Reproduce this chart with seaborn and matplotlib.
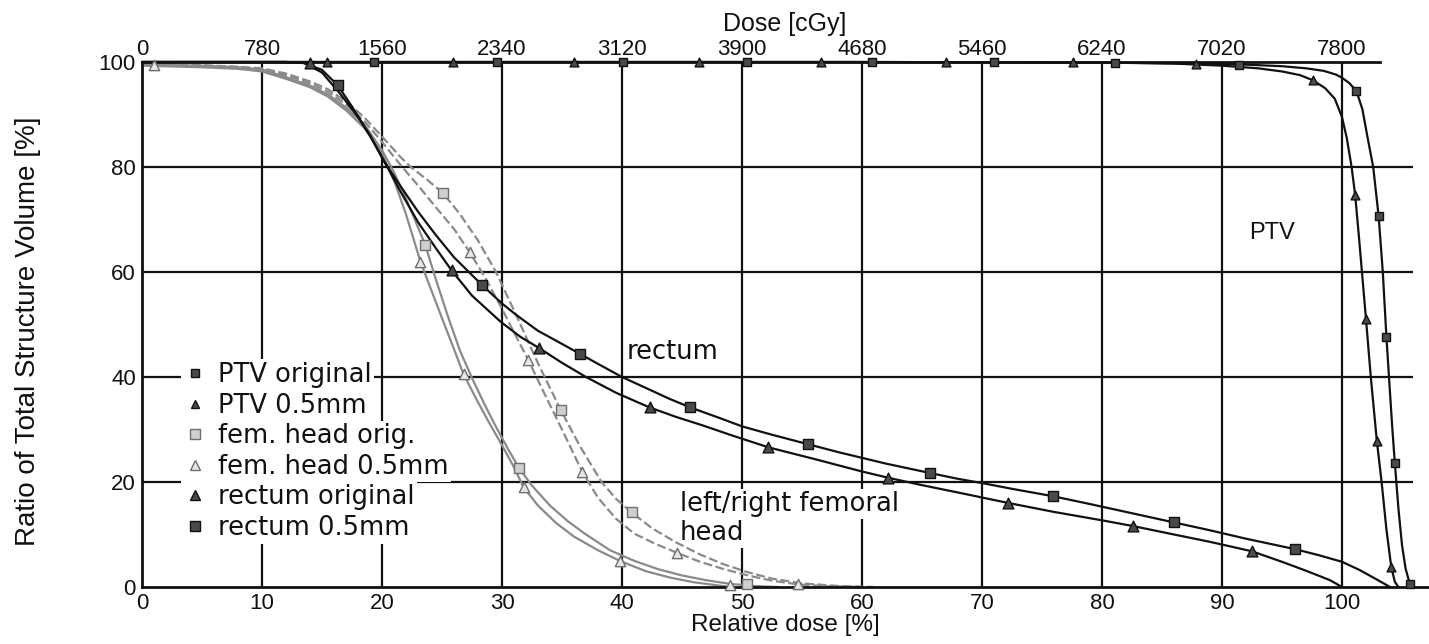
import matplotlib
matplotlib.use("Agg")
import matplotlib.pyplot as plt
import seaborn as sns
from matplotlib.lines import Line2D
from matplotlib.patches import Rectangle

sns.set_style("white")
plt.rcParams['font.family'] = ['Liberation Sans', 'DejaVu Sans']

# ---------------- data ----------------
rel_ticks = [0, 10, 20, 30, 40, 50, 60, 70, 80, 90, 100]
dose_ticks = [0, 780, 1560, 2340, 3120, 3900, 4680, 5460, 6240, 7020, 7800]
vol_ticks = [0, 20, 40, 60, 80, 100]

# PTV original (black, squares)
ptv_orig_x = [0, 60, 80, 88, 92, 95, 97, 98.5, 99.5, 100.0, 100.6, 101.2, 101.7, 102.1, 102.6,
              103.05, 103.4, 103.7, 104.0, 104.2, 104.4, 104.7, 105.0, 105.3, 105.6, 106.0]
ptv_orig_y = [100, 100, 99.9, 99.7, 99.5, 99.2, 98.8, 98.3, 97.6, 97.0, 96.0, 94.5, 91, 86, 80,
              70.7, 60, 47.7, 37, 30, 23.7, 15, 8, 3.5, 1, 0]
ptv_orig_mk_x = [19.3, 29.6, 40.1, 50.4, 60.8, 71.0, 81.1, 91.4, 101.2, 103.05, 103.7, 104.4, 105.7]
ptv_orig_mk_y = [100, 100, 100, 100, 100, 100, 99.9, 99.5, 94.5, 70.7, 47.7, 23.7, 0.5]

# PTV 0.5mm (black, triangles)
ptv_05_x = [0, 60, 80, 86, 90, 93, 95, 96.5, 97.6, 98.6, 99.4, 100.0, 100.4, 100.8, 101.1, 101.4,
            101.7, 102.0, 102.4, 102.9, 103.3, 103.7, 104.1, 104.4, 104.7]
ptv_05_y = [100, 100, 99.9, 99.7, 99.3, 98.8, 98.2, 97.5, 96.5, 95.0, 93.0, 89.5, 85.5, 80, 74.6, 67,
            59, 51, 40, 27.9, 20, 11, 3.9, 1, 0]
ptv_05_mk_x = [15.4, 25.9, 36.0, 46.4, 56.6, 67.0, 77.6, 87.8, 97.6, 101.1, 102.0, 102.9, 104.1]
ptv_05_mk_y = [100, 100, 100, 100, 100, 100, 100, 99.6, 96.5, 74.6, 51.0, 27.9, 3.9]

# rectum original (black, triangles)
rect_orig_x = [0, 12, 13.5, 15, 16.5, 18, 19, 20.2, 21.5, 23, 24.5, 25.8, 27.5, 29.9, 31.5, 33.1, 35,
               37, 39.5, 42.3, 44.5, 46.7, 49, 52.2, 56, 60, 62.2, 65, 68, 72.2, 76, 80, 82.6, 86,
               89, 92.5, 95, 97, 99, 100]
rect_orig_y = [100, 100, 99.8, 98, 94, 89.5, 86, 81, 75.5, 69.5, 64.5, 60.3, 55.5, 50.5, 47.7, 45.5,
               42.7, 40, 37, 34.2, 32.4, 30.8, 29.0, 26.6, 24.4, 22.0, 20.8, 19.4, 18.0, 16.0, 14.3,
               12.7, 11.6, 10.0, 8.6, 6.8, 4.8, 3.1, 1.3, 0]
rect_orig_mk_x = [14.0, 25.8, 33.1, 42.3, 52.2, 62.2, 72.2, 82.6, 92.5]
rect_orig_mk_y = [99.8, 60.3, 45.5, 34.2, 26.6, 20.8, 16.0, 11.6, 6.8]

# rectum 0.5mm (black, squares)
rect_05_x = [0, 12, 13.5, 15, 16.3, 17.5, 19, 20.2, 21.5, 23, 24.5, 26, 28.3, 30, 31.2, 33, 35, 36.5,
             38, 40, 42, 44, 45.7, 48, 50, 52.5, 55.5, 58, 60, 62, 65.7, 68, 70, 72.5, 75.9, 79, 82,
             86, 89, 92, 96.1, 98, 100, 101.5, 103, 104]
rect_05_y = [100, 100, 99.8, 98.5, 95.6, 91.5, 86, 81, 76.5, 71.5, 67, 62.8, 57.6, 54, 51.8, 48.8,
             46.3, 44.4, 42.5, 40, 37.9, 35.8, 34.2, 32.3, 30.6, 29, 27.2, 25.7, 24.6, 23.5, 21.7,
             20.6, 19.8, 18.7, 17.3, 15.8, 14.3, 12.3, 10.8, 9.2, 7.2, 6.1, 4.8, 3.2, 1.3, 0]
rect_05_mk_x = [16.3, 28.3, 36.5, 45.7, 55.5, 65.7, 75.9, 86.0, 96.1]
rect_05_mk_y = [95.6, 57.6, 44.4, 34.2, 27.2, 21.7, 17.3, 12.3, 7.2]

# femoral head (first head, solid grey)
femA_orig_x = [0, 5, 8, 10, 12, 14, 15.5, 17, 18.5, 20, 21, 22, 23, 23.6, 24.5, 25.5, 26.5, 27.5,
               28.5, 29.5, 30.5, 31.4, 32.5, 34, 35.5, 37, 39, 41, 43, 45, 47, 49, 51, 53]
femA_orig_y = [99.5, 99.3, 99.0, 98.6, 97.1, 95.5, 93.8, 91.3, 88.2, 83.2, 79, 74, 68.5, 65.2, 58.5,
               51.5, 45, 39.8, 35, 30.5, 26.3, 22.7, 19.3, 15.5, 12.5, 10, 7, 5, 3.4, 2.2, 1.3, 0.6,
               0.2, 0]
femA_orig_mk_x = [23.6, 31.4, 50.4]
femA_orig_mk_y = [65.2, 22.7, 0.5]

femA_05_x = [0, 5, 8, 10, 12, 14, 15.5, 17, 18.5, 20, 21, 22, 23.2, 24, 25, 26, 26.8, 28, 29, 30,
             31, 31.8, 33, 34.5, 36, 38, 39.8, 42, 44, 46, 48, 49]
femA_05_y = [99.3, 99.0, 98.7, 98.2, 96.8, 95.2, 93.4, 90.8, 87.5, 82.5, 77.5, 71, 62, 57.2, 51.2,
             45.3, 40.5, 35.2, 31, 27, 22.8, 19, 15.5, 12.2, 9.6, 7, 5, 3, 1.8, 0.9, 0.3, 0]
femA_05_mk_x = [23.2, 26.8, 31.8, 39.8, 49.0]
femA_05_mk_y = [62, 40.5, 19, 5, 0.3]

# femoral head (second head, dashed grey)
femB_orig_x = [0, 5, 8, 10, 12, 14, 15.5, 17, 18.5, 20, 21.5, 22.4, 23.8, 25.1, 26.5, 28, 29.5, 31.2,
               33, 34.9, 36.5, 38.3, 39.5, 40.8, 42.5, 44.5, 46.5, 48.5, 50.5, 52.5, 55, 58, 61]
femB_orig_y = [99.6, 99.4, 99.1, 98.8, 97.8, 96.3, 94.8, 92.5, 89.5, 85.8, 82, 80, 77.5, 75, 71, 66,
               60, 51.7, 42.6, 33.7, 26.8, 20, 16.8, 14.2, 11.2, 8.5, 6.2, 4.3, 2.8, 1.6, 0.7, 0.2, 0]
femB_orig_mk_x = [25.1, 34.9, 40.8]
femB_orig_mk_y = [75, 33.7, 14.2]

femB_05_x = [0, 5, 8, 10, 12, 14, 15.5, 17, 18.5, 20, 21.5, 23, 24.5, 26, 27.3, 28.5, 30, 31, 32.2,
             33.5, 35, 36.7, 38, 39.5, 41, 42.8, 44.6, 46.5, 48.5, 50.5, 52.5, 54.7, 57, 60]
femB_05_y = [99.5, 99.3, 99.0, 98.6, 97.5, 95.9, 94.3, 91.9, 88.8, 84.8, 80.5, 76.5, 72.3, 68.2, 63.8,
             59.3, 53, 48.5, 43.2, 37, 30, 21.9, 17, 13, 10.2, 8.2, 6.5, 4.8, 3.4, 2.2, 1.2, 0.5,
             0.15, 0]
femB_05_mk_x = [1.0, 27.3, 32.2, 36.7, 44.6, 54.7]
femB_05_mk_y = [99.5, 63.8, 43.2, 21.9, 6.5, 0.5]

legend_labels = ["PTV original", "PTV 0.5mm", "fem. head orig.", "fem. head 0.5mm",
                 "rectum original", "rectum 0.5mm"]

# ---------------- styles ----------------
BLACK = "#111111"
GREY = "#8a8a8a"
DARKFILL = "#4a4a4a"
LIGHTFILL = "#cfcfcf"
TRIFILL = "#e6e6e6"
GREYEDGE = "#6e6e6e"

fig = plt.figure(figsize=(14.29, 6.44), dpi=100)
ax = fig.add_axes([142 / 1429, 1 - 587 / 644, 1287 / 1429, 525 / 644])
ax.set_xlim(0, 107.25)
ax.set_ylim(0, 100)

# grid lines
ax.vlines(rel_ticks[1:], 0, 100, color=BLACK, lw=1.6, zorder=1)
ax.hlines(vol_ticks[1:-1], 0, 105.9, color=BLACK, lw=1.6, zorder=1)

# curves
def line(x, y, color, ls="-", z=3):
    sns.lineplot(x=x, y=y, ax=ax, color=color, linestyle=ls, lw=1.6, sort=False,
                 estimator=None, clip_on=False, zorder=z)

def marks(x, y, marker, size, face, edge, z=5):
    sns.scatterplot(x=x, y=y, ax=ax, marker=marker, s=size, color=face, edgecolor=edge,
                    linewidth=1.0, clip_on=False, zorder=z, legend=False)

dash = (0, (4, 1.6))
line(femA_orig_x, femA_orig_y, GREY, "-", 2)
line(femA_05_x, femA_05_y, GREY, "-", 2)
line(femB_orig_x, femB_orig_y, GREY, dash, 2)
line(femB_05_x, femB_05_y, GREY, dash, 2)
line(rect_orig_x, rect_orig_y, BLACK)
line(rect_05_x, rect_05_y, BLACK)
line(ptv_orig_x, ptv_orig_y, BLACK)
line(ptv_05_x, ptv_05_y, BLACK)

marks(femA_orig_mk_x, femA_orig_mk_y, "s", 45, LIGHTFILL, GREYEDGE)
marks(femB_orig_mk_x, femB_orig_mk_y, "s", 45, LIGHTFILL, GREYEDGE)
marks(femA_05_mk_x, femA_05_mk_y, "^", 55, TRIFILL, GREYEDGE)
marks(femB_05_mk_x, femB_05_mk_y, "^", 55, TRIFILL, GREYEDGE)
marks(rect_orig_mk_x, rect_orig_mk_y, "^", 60, DARKFILL, BLACK)
marks(rect_05_mk_x, rect_05_mk_y, "s", 50, DARKFILL, BLACK)
marks(ptv_orig_mk_x, ptv_orig_mk_y, "s", 36, DARKFILL, BLACK)
marks(ptv_05_mk_x, ptv_05_mk_y, "^", 40, DARKFILL, BLACK)

# spines
for side in ["left", "bottom", "top"]:
    ax.spines[side].set_visible(True)
    ax.spines[side].set_color(BLACK)
    ax.spines[side].set_linewidth(2.0)
ax.spines["right"].set_visible(False)
ax.spines["top"].set_bounds(0, 103.2)
ax.spines["left"].set_bounds(0, 100)

# ticks
ax.set_xticks(rel_ticks)
ax.set_yticks(vol_ticks)
ax.tick_params(axis="x", length=0, labelsize=16, pad=4.5, colors=BLACK)
ax.tick_params(axis="y", length=0, labelsize=16, pad=4.5, colors=BLACK)
ax.set_xlabel("Relative dose [%]", fontsize=17.5, color=BLACK)
ax.xaxis.set_label_coords(0.4996, -0.052)
ax.set_ylabel("Ratio of Total Structure Volume [%]", fontsize=20, color=BLACK)
ax.yaxis.set_label_coords(-0.0785, 0.4876)

# top dose axis
tax = ax.twiny()
tax.set_xlim(ax.get_xlim())
tax.set_xticks([d / 78 for d in dose_ticks])
tax.set_xticklabels([str(d) for d in dose_ticks])
tax.tick_params(axis="x", length=0, labelsize=16, pad=1.7, colors=BLACK)
for s in tax.spines.values():
    s.set_visible(False)
tax.set_xlabel("Dose [cGy]", fontsize=18, color=BLACK)
tax.xaxis.set_label_coords(0.4996, 1.059)

# annotations
ax.text(40.4, 44.8, "rectum", family="DejaVu Sans", fontsize=18.5, va="center", ha="left",
        color=BLACK, zorder=6)
ax.text(92.25, 67.4, "PTV", fontsize=17, va="center", ha="left", color=BLACK, zorder=6)
wb = dict(boxstyle="square,pad=0.08", fc="white", ec="none")
ax.text(44.8, 15.8, "left/right femoral", family="DejaVu Sans", fontsize=18.5, va="center",
        ha="left", color=BLACK, zorder=1.5, bbox=wb)
ax.text(44.8, 10.3, "head", family="DejaVu Sans", fontsize=18.5, va="center",
        ha="left", color=BLACK, zorder=1.5, bbox=wb)

# legend
handles = [
    Line2D([], [], ls="none", marker="s", ms=6, mfc=DARKFILL, mec=BLACK, mew=1),
    Line2D([], [], ls="none", marker="^", ms=6, mfc=DARKFILL, mec=BLACK, mew=1),
    Line2D([], [], ls="none", marker="s", ms=6.5, mfc=LIGHTFILL, mec=GREYEDGE, mew=1),
    Line2D([], [], ls="none", marker="^", ms=7, mfc=TRIFILL, mec=GREYEDGE, mew=1),
    Line2D([], [], ls="none", marker="^", ms=7.5, mfc=DARKFILL, mec=BLACK, mew=1),
    Line2D([], [], ls="none", marker="s", ms=6.5, mfc=DARKFILL, mec=BLACK, mew=1),
]
ax.add_patch(Rectangle((3.25, 8.0), 3.1, 36.4, fc="white", ec="none", zorder=4))
leg = ax.legend(handles=handles, labels=legend_labels, loc="upper left",
                bbox_to_anchor=(0.0311, 0.4286), frameon=False,
                prop={"family": "DejaVu Sans", "size": 18.5}, handlelength=1.0,
                handletextpad=0.4, labelspacing=0.18, borderpad=0, borderaxespad=0)
leg.set_zorder(6)
for t in leg.get_texts():
    t.set_color(BLACK)
    t.set_bbox(dict(boxstyle="square,pad=0.1", fc="white", ec="none"))

fig.savefig("out.png", dpi=100)
